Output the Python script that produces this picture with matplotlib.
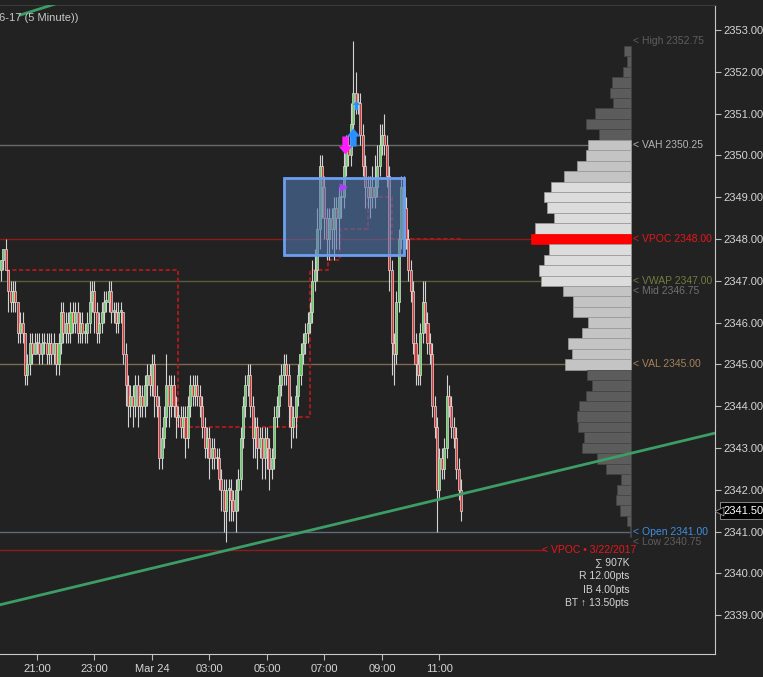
import matplotlib
matplotlib.use("Agg")
import matplotlib.pyplot as plt
from matplotlib.path import Path
from matplotlib.transforms import blended_transform_factory

plt.rcParams['font.family'] = ['Liberation Sans', 'DejaVu Sans']

BG = "#222222"

# ES 06-17, 5 minute bars, first bar 19:45 (Mar 23), last 11:45 (Mar 24)
first_open = 2347.25
closes = [
    2347.50, 2347.75, 2347.25, 2346.75, 2346.50, 2346.75, 2346.50, 2345.75, 2346.00, 2345.75,
    2344.75, 2345.00, 2345.50, 2345.25, 2345.50, 2345.50, 2345.25, 2345.50, 2345.50, 2345.25,
    2345.50, 2345.25, 2345.50, 2345.00, 2345.50, 2346.25, 2345.75, 2346.00, 2345.75, 2346.25,
    2346.00, 2346.25, 2345.75, 2346.00, 2345.75, 2345.75, 2346.00, 2346.50, 2346.75, 2346.25,
    2345.75, 2346.00, 2346.25, 2346.50, 2346.50, 2346.75, 2346.25, 2346.25, 2346.00, 2346.25,
    2346.25, 2345.25, 2344.50, 2344.00, 2344.25, 2344.00, 2344.50, 2344.00, 2344.25, 2344.00,
    2344.50, 2344.75, 2344.50, 2345.00, 2344.25, 2344.00, 2342.75, 2343.25, 2343.75, 2344.50,
    2344.00, 2344.50, 2344.00, 2343.75, 2343.75, 2343.50, 2343.75, 2343.25, 2344.00, 2344.50,
    2344.25, 2344.50, 2344.25, 2344.00, 2343.50, 2343.00, 2343.25, 2342.75, 2343.00, 2342.75,
    2342.75, 2342.25, 2342.00, 2341.50, 2342.00, 2342.00, 2341.75, 2341.50, 2342.00, 2342.25,
    2343.25, 2344.00, 2344.50, 2344.75, 2344.00, 2343.25, 2343.50, 2343.00, 2343.25, 2342.75,
    2343.25, 2343.00, 2342.50, 2342.75, 2343.75, 2344.00, 2344.50, 2344.75, 2345.00, 2344.75,
    2344.00, 2343.50, 2343.75, 2344.25, 2344.75, 2345.25, 2345.50, 2345.75, 2346.00, 2346.25,
    2347.00, 2347.25, 2348.25, 2349.75, 2349.25, 2348.50, 2348.00, 2348.50, 2348.25, 2348.75,
    2348.50, 2349.00, 2349.00, 2349.75, 2350.25, 2350.00, 2350.75, 2351.50, 2351.25, 2351.25,
    2350.50, 2349.75, 2349.25, 2349.00, 2349.25, 2349.00, 2349.25, 2349.75, 2350.25, 2350.50,
    2350.25, 2349.50, 2347.25, 2345.50, 2345.25, 2346.50, 2348.00, 2349.25, 2348.75, 2348.00,
    2347.25, 2346.75, 2345.50, 2345.00, 2344.75, 2345.75, 2346.50, 2346.00, 2345.50, 2345.25,
    2344.00, 2343.50, 2342.00, 2342.75, 2342.50, 2343.00, 2344.25, 2344.00, 2343.50, 2343.25,
    2342.50, 2342.00, 2341.50,
]
# wick lengths in ticks (0.25) above / below the body
upper_wick = [
    0, 0, 1, 0, 1, 1, 1, 0, 1, 1,
    0, 1, 1, 1, 1, 1, 1, 1, 1, 1,
    1, 1, 1, 0, 1, 1, 1, 1, 1, 1,
    1, 1, 1, 1, 1, 1, 1, 2, 1, 1,
    1, 1, 1, 1, 1, 1, 1, 1, 1, 1,
    1, 0, 1, 1, 1, 1, 1, 1, 1, 1,
    1, 1, 1, 1, 1, 1, 1, 1, 1, 3,
    1, 1, 1, 1, 1, 1, 1, 1, 1, 1,
    1, 1, 1, 1, 1, 1, 1, 1, 1, 1,
    1, 1, 1, 1, 1, 1, 1, 1, 1, 1,
    1, 1, 1, 1, 1, 1, 1, 1, 1, 1,
    1, 1, 1, 1, 1, 1, 1, 1, 1, 1,
    1, 1, 1, 1, 1, 1, 1, 1, 1, 1,
    2, 2, 2, 1, 1, 1, 1, 1, 1, 1,
    1, 1, 1, 2, 1, 1, 2, 5, 2, 1,
    1, 1, 1, 1, 1, 2, 3, 2, 2, 1,
    2, 1, 1, 1, 1, 1, 1, 1, 1, 1,
    1, 1, 1, 1, 1, 1, 2, 2, 1, 1,
    1, 1, 1, 1, 1, 1, 2, 1, 1, 1,
    1, 1, 1,
]
lower_wick = [
    1, 1, 0, 2, 1, 1, 1, 1, 1, 1,
    1, 1, 1, 1, 0, 1, 1, 1, 1, 1,
    1, 1, 1, 1, 1, 1, 1, 1, 1, 1,
    1, 1, 1, 1, 1, 1, 1, 1, 1, 2,
    1, 1, 1, 1, 1, 1, 1, 1, 1, 1,
    1, 1, 2, 2, 1, 2, 1, 2, 1, 1,
    1, 2, 1, 1, 2, 1, 1, 1, 1, 1,
    2, 1, 1, 2, 1, 1, 1, 2, 1, 1,
    1, 1, 1, 1, 1, 1, 1, 2, 1, 1,
    1, 1, 2, 2, 3, 3, 2, 1, 2, 2,
    1, 1, 1, 1, 1, 2, 2, 2, 1, 2,
    2, 2, 2, 1, 1, 1, 1, 1, 1, 1,
    2, 2, 1, 2, 1, 1, 1, 1, 1, 1,
    1, 1, 1, 2, 3, 2, 2, 2, 2, 3,
    3, 3, 2, 1, 1, 1, 1, 1, 1, 1,
    1, 1, 2, 1, 2, 1, 1, 1, 1, 1,
    1, 1, 2, 3, 3, 1, 1, 1, 2, 1,
    1, 1, 1, 2, 1, 1, 1, 1, 1, 1,
    1, 1, 4, 1, 1, 1, 1, 1, 1, 1,
    1, 1, 1,
]

xtick_pos = [15, 39, 63, 87, 111, 135, 159, 183]
xtick_labels = ["21:00", "23:00", "Mar 24", "03:00", "05:00", "07:00", "09:00", "11:00"]

# volume profile (relative volume per 0.25 tick)
profile_prices = [
    2352.50, 2352.25, 2352.00, 2351.75, 2351.50, 2351.25, 2351.00, 2350.75, 2350.50, 2350.25,
    2350.00, 2349.75, 2349.50, 2349.25, 2349.00, 2348.75, 2348.50, 2348.25, 2348.00, 2347.75,
    2347.50, 2347.25, 2347.00, 2346.75, 2346.50, 2346.25, 2346.00, 2345.75, 2345.50, 2345.25,
    2345.00, 2344.75, 2344.50, 2344.25, 2344.00, 2343.75, 2343.50, 2343.25, 2343.00, 2342.75,
    2342.50, 2342.25, 2342.00, 2341.75, 2341.50, 2341.25, 2341.00,
]
profile_vol = [
    7, 4, 8, 19, 21, 18, 36, 45, 32, 43,
    45, 54, 67, 80, 87, 84, 77, 96, 100, 82,
    87, 92, 90, 68, 58, 58, 43, 49, 63, 59,
    66, 44, 39, 45, 52, 54, 53, 47, 49, 34,
    25, 10, 14, 15, 11, 4, 1,
]
vah, vpoc, val = 2350.25, 2348.00, 2345.00

level_names = ["High", "VAH", "VPOC", "VWAP", "Mid", "VAL", "Open", "Low"]
level_prices = [2352.75, 2350.25, 2348.00, 2347.00, 2346.75, 2345.00, 2341.00, 2340.75]
level_text_colors = ["#5e5e5e", "#b4b4b4", "#e8161b", "#6f7d3c", "#707070", "#a5825a", "#3f8fe0", "#5e5e5e"]
level_line_colors = [None, "#6a6a6a", "#8e1a1a", "#55603a", None, "#7d6a52", "#5f6b78", None]

prev_vpoc = 2340.55
stats_lines = ["∑ 907K", "R 12.00pts", "IB 4.00pts", "BT ↑ 13.50pts"]

# developing POC steps
dpoc_x = [-1, 74, 74, 123.5, 123.5, 129, 129, 136.5, 136.5, 141.5, 141.5, 153, 153, 163, 163, 192]
dpoc_y = [2347.25, 2347.25, 2343.50, 2343.50, 2343.75, 2343.75, 2347.25, 2347.25, 2347.50, 2347.50,
          2348.25, 2348.25, 2349.00, 2349.00, 2348.00, 2348.00]

# trade markers: bar, price
sell_marks = [(143.6, 2350.25)]
buy_marks = [(146.9, 2350.45)]
small_buy_marks = [(148.0, 2351.2)]
entry_marks = [(142.8, 2349.25)]

last_price = 2341.50

opens = [first_open] + closes[:-1]
n = len(closes)
bars = list(range(n))
highs = [max(o, c) + u * 0.25 for o, c, u in zip(opens, closes, upper_wick)]
lows = [min(o, c) - d * 0.25 for o, c, d in zip(opens, closes, lower_wick)]

fig = plt.figure(figsize=(7.63, 6.77), dpi=100, facecolor=BG)
ax = fig.add_axes([0, 23 / 677, 715 / 763, 649 / 677], facecolor=BG)
ax.set_xlim(-0.42, 298.0)
ax.set_ylim(2338.07, 2353.6)

# level lines
profile_right = 263.0
for p, lc in zip(level_prices, level_line_colors):
    if lc:
        ax.plot([-1, profile_right], [p, p], color=lc, lw=1, zorder=1)
ax.plot([-1, 227], [prev_vpoc, prev_vpoc], color="#8e1a1a", lw=1, zorder=1)

# developing POC
ax.plot(dpoc_x, dpoc_y, color="#a01c1c", lw=1.5, ls=(0, (2, 1.2)), zorder=2)

# candles
for i in bars:
    o, c = opens[i], closes[i]
    ax.vlines(i, lows[i], highs[i], color="#d2d2d2", lw=0.8, zorder=3)
    fc = "#5fcf5f" if c >= o else "#e03434"
    h = abs(c - o) if c != o else 0.04
    ax.bar(i, h, bottom=min(o, c), width=0.85, color=fc, edgecolor="#dcdcdc",
           linewidth=0.5, zorder=4)

# initial balance box
ax.add_patch(plt.Rectangle((118, 2347.62), 50, 1.83, facecolor="#5276ae", alpha=0.6,
                           edgecolor="none", zorder=5))
ax.add_patch(plt.Rectangle((118, 2347.62), 50, 1.83, facecolor="none",
                           edgecolor="#6d9ff0", lw=2, zorder=5))

# arrow-shaped markers
down_arrow = Path([(-0.35, 1), (0.35, 1), (0.35, -0.1), (0.75, -0.1), (0, -1),
                   (-0.75, -0.1), (-0.35, -0.1), (-0.35, 1)], closed=True)
up_arrow = Path([(-0.35, -1), (0.35, -1), (0.35, 0.1), (0.75, 0.1), (0, 1),
                 (-0.75, 0.1), (-0.35, 0.1), (-0.35, -1)], closed=True)
ax.scatter([m[0] for m in sell_marks], [m[1] for m in sell_marks], marker=down_arrow,
           s=170, color="#ff1cff", linewidths=0, zorder=6)
ax.scatter([m[0] for m in buy_marks], [m[1] for m in buy_marks], marker=up_arrow,
           s=170, color="#2a90ff", linewidths=0, zorder=6)
ax.scatter([m[0] for m in small_buy_marks], [m[1] for m in small_buy_marks], marker=up_arrow,
           s=45, color="#2a90ff", linewidths=0, zorder=6)
ax.scatter([m[0] for m in entry_marks], [m[1] for m in entry_marks], marker=">", s=22,
           color="#b03cff", zorder=6)

# volume profile
for p, v in zip(profile_prices, profile_vol):
    w = v / 2.396
    if p == vpoc:
        fc, ec = "#ff0000", "#ff0000"
    elif val <= p <= vah:
        fc, ec = ("#dcdcdc" if v >= 75 else "#c4c4c4"), "#9a9a9a"
    else:
        fc, ec = "#5c5c5c", "#444444"
    ax.barh(p, w, height=0.25, left=profile_right - w, color=fc, edgecolor=ec,
            linewidth=0.5, zorder=5)

# trend lines
ax.plot([-1, 299], [2339.24, 2343.37], color="#3c9d66", lw=2, zorder=7)
ax.plot([8, 24], [2353.36, 2353.65], color="#3c9d66", lw=2, zorder=7)

# level labels
for name, p, tc in zip(level_names, level_prices, level_text_colors):
    ax.text(263.8, p, f"< {name} {p:.2f}", color=tc, fontsize=7.5, va="center",
            ha="left", zorder=8)
ax.text(265.0, prev_vpoc, "< VPOC • 3/22/2017", color="#e8161b", fontsize=7.5,
        va="center", ha="right", zorder=8)
for k, s in enumerate(stats_lines):
    ax.text(262.2, 2340.25 - k * 0.32, s, color="#d4d4d4", fontsize=7.5,
            va="center", ha="right", zorder=8)

ax.text(-0.8, 2353.3, "6-17 (5 Minute))", color="#c8c8c8", fontsize=8,
        va="center", ha="left", zorder=9)

# axes styling
ax.yaxis.tick_right()
ax.set_yticks(range(2339, 2354))
ax.set_yticklabels([f"{v:.2f}" for v in range(2339, 2354)])
ax.set_xticks(xtick_pos)
ax.set_xticklabels(xtick_labels)
ax.tick_params(axis="y", colors="#bbbbbb", labelcolor="#d6d6d6", labelsize=8, length=4, pad=2)
ax.tick_params(axis="x", colors="#bbbbbb", labelcolor="#d6d6d6", labelsize=8, length=4, pad=3)
ax.spines["left"].set_visible(False)
ax.spines["top"].set_color("#3a3a3a")
ax.spines["right"].set_color("#c8c8c8")
ax.spines["bottom"].set_color("#c8c8c8")

# last price tag on the price scale
trans = blended_transform_factory(ax.transAxes, ax.transData)
ax.text(1.0115, last_price, f"{last_price:.2f}", transform=trans, color="white", fontsize=8,
        va="center", ha="left", zorder=10,
        bbox=dict(boxstyle="square,pad=0.3", facecolor="black", edgecolor="#9a9a9a", lw=0.6))
ax.scatter([1.0055], [last_price], marker="<", s=40, color="black", edgecolors="#9a9a9a",
           linewidths=0.6, transform=trans, clip_on=False, zorder=11)

fig.savefig("out.png", dpi=100, facecolor=BG)
